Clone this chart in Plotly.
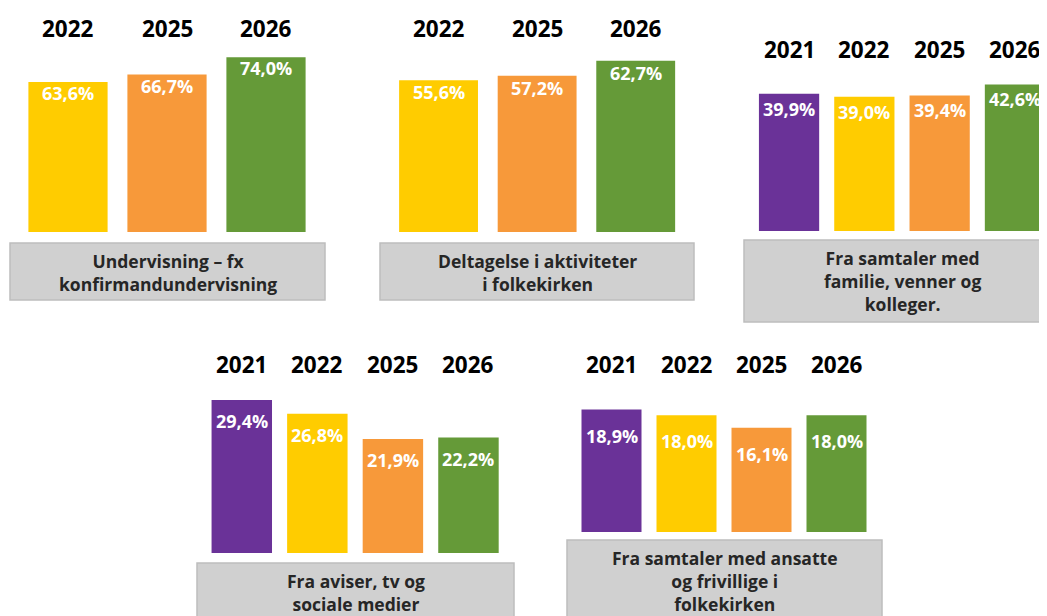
import plotly.graph_objects as go

# the page body adds an 8px margin, so the figure is a bit smaller
# and every pixel position below is shifted by OFF
W, H = 1039, 608
OFF = 8

# data
years_1 = ["2022", "2025", "2026"]
undervisning = [63.6, 66.7, 74.0]

years_2 = ["2022", "2025", "2026"]
aktiviteter = [55.6, 57.2, 62.7]

years_3 = ["2021", "2022", "2025", "2026"]
samtaler_familie = [39.9, 39.0, 39.4, 42.6]

years_4 = ["2021", "2022", "2025", "2026"]
aviser_tv = [29.4, 26.8, 21.9, 22.2]

years_5 = ["2021", "2022", "2025", "2026"]
samtaler_ansatte = [18.9, 18.0, 16.1, 18.0]

labels = [
    "Undervisning – fx<br>konfirmandundervisning",
    "Deltagelse i aktiviteter<br>i folkekirken",
    "Fra samtaler med<br>familie, venner og<br>kolleger.",
    "Fra aviser, tv og<br>sociale medier",
    "Fra samtaler med ansatte<br>og frivillige i<br>folkekirken",
]

YEAR_COLORS = {"2021": "#6a3298", "2022": "#ffcc00", "2025": "#f7993a", "2026": "#659a38"}
FONT = "Open Sans"


def px(v):
    return (v - OFF) / W


def py(v):
    return 1 - (v - OFF) / H


# layout per panel (screen pixels): x-domain, zero line, px per %, year row,
# box, centre of box text, label offset
panels = [
    dict(years=years_1, vals=undervisning, x=(18.5, 315.5), zero=232, scale=2.36,
         yr=28, box=(10, 325, 243, 300), ly=272, off=11),
    dict(years=years_2, vals=aktiviteter, x=(389.25, 685), zero=232, scale=2.73,
         yr=28, box=(380, 694, 243, 300), ly=272, off=12),
    dict(years=years_3, vals=samtaler_familie, x=(751.4, 1052.6), zero=231, scale=3.44,
         yr=49, box=(744, 1060, 240, 322), ly=281, off=15),
    dict(years=years_4, vals=aviser_tv, x=(204, 506.25), zero=553, scale=5.2,
         yr=364, box=(197, 514, 563, 625), ly=592, off=21),
    dict(years=years_5, vals=samtaler_ansatte, x=(574, 874), zero=532, scale=6.48,
         yr=364, box=(567, 882, 540, 623), ly=580.5, off=26),
]

fig = go.Figure()
annotations = []
shapes = []
layout_axes = {}

for i, p in enumerate(panels, start=1):
    xa = "x" if i == 1 else f"x{i}"
    ya = "y" if i == 1 else f"y{i}"
    n = len(p["years"])
    a, b = p["x"]
    pitch = (b - a) / n
    hi = n - 0.5
    if b - OFF > W:
        hi = -0.5 + (W + OFF - a) / pitch
        b = W + OFF
    top = p["yr"] + 12
    layout_axes["xaxis" if i == 1 else f"xaxis{i}"] = dict(
        domain=[px(a), px(b)], range=[-0.5, hi], visible=False,
        anchor=ya, type="category", fixedrange=True)
    layout_axes["yaxis" if i == 1 else f"yaxis{i}"] = dict(
        domain=[py(p["zero"]), py(top)], range=[0, (p["zero"] - top) / p["scale"]],
        visible=False, anchor=xa, fixedrange=True)

    fig.add_trace(go.Bar(
        x=p["years"], y=p["vals"], xaxis=xa, yaxis=ya,
        marker=dict(color=[YEAR_COLORS[yy] for yy in p["years"]], line=dict(width=0)),
        showlegend=False, hoverinfo="skip",
    ))

    for j, (yy, v) in enumerate(zip(p["years"], p["vals"])):
        annotations.append(dict(
            x=j, y=v, xref=xa, yref=ya, yshift=-p["off"], xanchor="center", yanchor="middle",
            text=f"{v:.1f}".replace(".", ",") + "%", showarrow=False,
            font=dict(family=FONT, size=18, color="white", weight="bold")))
        annotations.append(dict(
            x=j, y=py(p["yr"]), xref=xa, yref="paper", xanchor="center", yanchor="middle",
            text=yy, showarrow=False,
            font=dict(family=FONT, size=22.5, color="black", weight="bold")))

    x0, x1, y0, y1 = p["box"]
    shapes.append(dict(
        type="rect", xref="paper", yref="paper",
        x0=px(x0), x1=px(x1), y0=py(y0), y1=py(y1),
        fillcolor="#d0d0d0", line=dict(color="#bdbdbd", width=1.5), layer="below"))
    annotations.append(dict(
        x=px((x0 + x1) / 2), y=py(p["ly"]), xref="paper", yref="paper",
        text=labels[i - 1], showarrow=False, xanchor="center", yanchor="middle",
        align="center",
        font=dict(family=FONT, size=17.5, color="#262626", weight="bold")))

fig.update_layout(
    width=W, height=H,
    margin=dict(l=0, r=0, t=0, b=0),
    plot_bgcolor="white",
    paper_bgcolor="white",
    bargap=0.2,
    shapes=shapes,
    annotations=annotations,
    font=dict(family=FONT),
    **layout_axes,
)

fig.write_html("out.html", config={"displayModeBar": False})
